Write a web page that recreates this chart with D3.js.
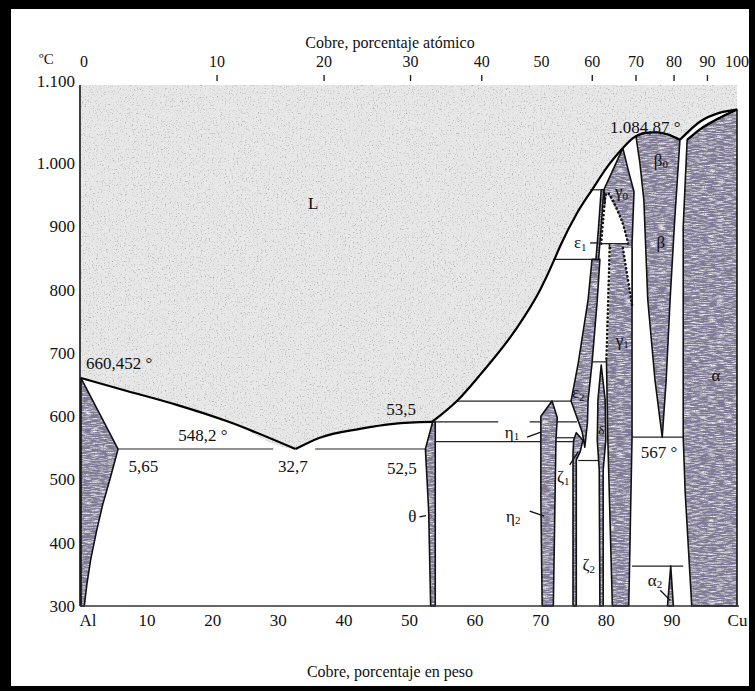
<!DOCTYPE html>
<html><head><meta charset="utf-8">
<script src="https://cdn.jsdelivr.net/npm/d3@7"></script>
<style>
body{margin:0;background:#000;}
svg{display:block;font-family:"Liberation Serif","DejaVu Serif",serif;}
</style></head><body>
<svg id="chart" width="755" height="691"></svg>
<script>
// ---- Axes -------------------------------------------------------------
const wtTicks = [0,10,20,30,40,50,60,70,80,90,100];
const atTicks = [0,10,20,30,40,50,60,70,80,90,100];
const atTickMarks = [10,20,30,40,60,70,80,90];
const tempTicks = [300,400,500,600,700,800,900,1000,1100];

// ---- Liquidus / solidus curves (wt% Cu, °C) ----------------------------
const liqAl    = [[0,660.452],[7,640],[14.6,618],[22.3,592],[32.7,548.2]];
const liqTheta = [[32.7,548.2],[36.4,566],[42.5,580],[47.6,588],[53.5,591]];
const liqMid   = [[53.5,591],[57.3,624],[60.8,665],[66.2,736],[70.0,800],[72.0,844],[73.0,868],[75.6,921],[77.9,958],[80.2,994],[82.6,1024]];
const liqBeta  = [[82.6,1024],[84.2,1040],[86.0,1048],[87.8,1049],[89.6,1045],[91.3,1037]];
const liqCu    = [[91.3,1037],[94.4,1066],[97.4,1080],[100,1084.87]];
const solCu    = [[92.4,1037],[94.4,1054],[97.4,1072],[100,1084.87]];

// ---- Single-phase fields ----------------------------------------------
const phaseAl     = [[0,660.452],[5.65,548.2],[4.4,500],[3.3,460],[2.4,420],[1.5,375],[0.9,335],[0.5,300],[0,300]];
const phaseTheta  = [[53.6,591],[52.5,548.2],[53.0,450],[53.3,300],[54.0,300],[54.0,591]];
const phaseEta    = [[70.1,600],[71.8,624],[72.6,598],[72.4,562],[72.0,300],[70.3,300],[70.1,470]];
const phaseEps2   = [[77.9,848],[79.1,848],[78.7,784],[77.9,684],[77.3,626],[77.2,590],[76.8,551],[76.4,575],[74.7,624],[75.8,684],[77.3,784]];
const phaseZeta   = [[75.5,574],[76.5,562],[76.1,544],[75.5,531],[75.5,300],[75.0,300],[75.0,540],[75.1,562]];
const phaseDelta  = [[79.3,681],[79.9,626],[80.0,562],[79.6,515],[79.6,300],[79.1,300],[79.0,515],[78.7,562],[78.8,626]];
const phaseGamma  = [[82.6,1024],[83.4,990],[84.3,955],[84.0,873],[84.0,567],[83.5,300],[81.0,300],[80.3,567],[80.1,689],[80.6,866],[79.7,958]];
const phaseBeta   = [[84.6,1043],[86.0,1048],[87.8,1049],[89.6,1045],[91.3,1037],[90.5,910],[89.8,784],[89.2,657],[88.6,567],[87.5,657],[86.4,784],[85.8,942],[85.2,1000]];
const phaseAlpha  = [[92.4,1037],[94.4,1054],[97.4,1072],[100,1084.87],[100,300],[93.1,300],[92.1,480],[91.8,567],[91.8,900]];
const phaseAlpha2 = [[89.9,363],[90.3,300],[89.4,300]];
const phaseEps1   = [[79.3,958],[79.7,958],[79.3,900],[78.9,848],[78.5,848],[78.9,900]];

// two-phase pockets inside the gamma field (dotted boundaries)
const gapUpper = [[80.2,953],[79.6,910],[79.3,873],[83.4,873],[82.4,910]];
const gapRight = [[82.6,866],[84.0,866],[84.0,776]];
const gammaDotted = [[80.6,866],[80.1,689]];

// ---- Invariant isotherms ----------------------------------------------
const isoT    = [548.2, 548.2, 591, 591, 624, 560, 566, 530, 686, 848, 873, 958, 567, 363];
const isoFrom = [5.65, 35.7, 54.0, 68.4, 57.3, 54.0, 72.5, 75.8, 77.5, 72.0, 78.8, 77.6, 84.0, 84.0];
const isoTo   = [29.3, 52.5, 63.6, 75.6, 74.7, 75.6, 75.6, 79.4, 80.2, 79.1, 83.4, 79.7, 91.8, 91.8];

// ---- Annotations --------------------------------------------------------
const labelText = ["L","660,452 °","548,2 °","5,65","32,7","53,5","52,5","θ","η","η","ζ","ζ","δ","ε","ε","γ","γ","β","β","α","α","567 °","1.084,87 °"];
const labelSub  = ["","","","","","","","","1","2","1","2","","2","1","0","1","0","","","2","",""];
const labelWt   = [35.4,5.8,18.6,9.5,32.3,48.8,48.9,50.5,65.7,65.9,73.5,77.4,79.3,75.8,76.1,82.4,82.5,88.4,88.4,96.8,87.5,88.1,86.0];
const labelT    = [937,684,569,521,521,610,518,441,575,442,504,365,578,637,874,955,720,1005,874,665,341,543,1056];
const pointers  = [
  [[51.6,441],[52.6,443]],
  [[68.0,567],[70.1,575]],
  [[68.4,450],[70.6,442]],
  [[74.5,523],[75.8,544]],
  [[77.6,874],[78.9,874]],
  [[88.3,325],[89.8,309]]
];

// ---- Scales ----------------------------------------------------------
const x = d3.scaleLinear().domain([0,100]).range([81,737]);
const y = d3.scaleLinear().domain([300,1100]).range([606,100]);
const plotTop = 85;
const M_CU = 63.546, M_AL = 26.982;
const atToWt = a => 100*a*M_CU/(a*M_CU + (100-a)*M_AL);
const xAt = d3.scaleLinear().domain(atTicks).range(atTicks.map(a => x(atToWt(a))));

const svg = d3.select("#chart");
const defs = svg.append("defs");

// grain for the liquid field: sparse dark specks
const fL = defs.append("filter").attr("id","grainL").attr("x",0).attr("y",0).attr("width",1).attr("height",1);
fL.append("feTurbulence").attr("type","fractalNoise").attr("baseFrequency","0.75").attr("numOctaves",2).attr("seed",4).attr("result","n");
fL.append("feColorMatrix").attr("in","n").attr("type","matrix")
  .attr("values","0 0 0 0 0.3  0 0 0 0 0.3  0 0 0 0 0.33  -2.6 0 0 0 1.15").attr("result","d");
fL.append("feComposite").attr("in","d").attr("in2","SourceGraphic").attr("operator","in").attr("result","d2");
const mL = fL.append("feMerge"); mL.append("feMergeNode").attr("in","SourceGraphic"); mL.append("feMergeNode").attr("in","d2");

// grain for solid single-phase fields: light horizontal streaks
const fS = defs.append("filter").attr("id","grainS").attr("x",0).attr("y",0).attr("width",1).attr("height",1);
fS.append("feTurbulence").attr("type","fractalNoise").attr("baseFrequency","0.12 0.9").attr("numOctaves",2).attr("seed",9).attr("result","n");
fS.append("feColorMatrix").attr("in","n").attr("type","matrix")
  .attr("values","0 0 0 0 1  0 0 0 0 1  0 0 0 0 1  2.4 0 0 0 -1.05").attr("result","w");
fS.append("feComposite").attr("in","w").attr("in2","SourceGraphic").attr("operator","in").attr("result","w2");
fS.append("feTurbulence").attr("type","fractalNoise").attr("baseFrequency","0.9").attr("numOctaves",1).attr("seed",2).attr("result","n2");
fS.append("feColorMatrix").attr("in","n2").attr("type","matrix")
  .attr("values","0 0 0 0 0.2  0 0 0 0 0.18  0 0 0 0 0.3  2.2 0 0 0 -0.95").attr("result","k");
fS.append("feComposite").attr("in","k").attr("in2","SourceGraphic").attr("operator","in").attr("result","k2");
const mS = fS.append("feMerge"); mS.append("feMergeNode").attr("in","SourceGraphic"); mS.append("feMergeNode").attr("in","w2"); mS.append("feMergeNode").attr("in","k2");

// black frame with white page inside
svg.append("rect").attr("width",755).attr("height",691).attr("fill","#000");
svg.append("rect").attr("x",11).attr("y",9).attr("width",738).attr("height",677).attr("fill","#fff");

const curve = d3.line().x(d => x(d[0])).y(d => y(d[1])).curve(d3.curveMonotoneX);
const poly  = d3.line().x(d => x(d[0])).y(d => y(d[1])).curve(d3.curveLinearClosed);
const open  = d3.line().x(d => x(d[0])).y(d => y(d[1]));

// liquid field
const liquidEdge = [...liqAl, ...liqTheta.slice(1), ...liqMid.slice(1), ...liqBeta.slice(1), ...liqCu.slice(1)];
const liquidPath = curve(liquidEdge) + `L${x(100)},${plotTop}L${x(0)},${plotTop}Z`;
svg.append("path").attr("d", liquidPath).attr("fill","#e8e8e8").attr("filter","url(#grainL)");

// isotherms
svg.append("g").selectAll("line").data(isoT).join("line")
  .attr("x1",(d,i)=>x(isoFrom[i])).attr("x2",(d,i)=>x(isoTo[i]))
  .attr("y1",d=>y(d)).attr("y2",d=>y(d))
  .attr("stroke","#222").attr("stroke-width",1.2);

// single-phase fields (epsilon-1 is drawn after the gamma pockets)
const solids = [phaseAl, phaseTheta, phaseEta, phaseEps2, phaseZeta, phaseDelta, phaseGamma, phaseBeta, phaseAlpha, phaseAlpha2];
const drawSolids = list => {
  const g = svg.append("g");
  g.selectAll("path.f").data(list).join("path").attr("class","f")
    .attr("d", poly).attr("fill","#817c97").attr("filter","url(#grainS)");
  g.selectAll("path.s").data(list).join("path").attr("class","s")
    .attr("d", poly).attr("fill","none").attr("stroke","#111").attr("stroke-width",1.6).attr("stroke-linejoin","round");
};
drawSolids(solids);

// dotted two-phase pockets inside gamma
const dotStyle = s => s.attr("fill","none").attr("stroke","#111").attr("stroke-width",2.6)
  .attr("stroke-dasharray","0.1,4").attr("stroke-linecap","round");
[gapUpper, gapRight].forEach(g => svg.append("path").attr("d", poly(g)).attr("fill","#fff"));
svg.append("path").attr("d", d3.line().x(d=>x(d[0])).y(d=>y(d[1])).curve(d3.curveCatmullRom)
  ([gapUpper[2],gapUpper[1],gapUpper[0],gapUpper[4],gapUpper[3]])).call(dotStyle);
svg.append("path").attr("d", open([gapRight[0],gapRight[2]])).call(dotStyle);
svg.append("path").attr("d", open(gammaDotted)).attr("stroke","#fff").attr("stroke-width",2.2);
svg.append("path").attr("d", open(gammaDotted)).call(dotStyle);
svg.append("line").attr("x1",x(79.3)).attr("x2",x(83.4)).attr("y1",y(873)).attr("y2",y(873))
  .attr("stroke","#222").attr("stroke-width",1.2);
svg.append("line").attr("x1",x(84.0)).attr("x2",x(84.0)).attr("y1",y(866)).attr("y2",y(776))
  .attr("stroke","#111").attr("stroke-width",1.6);
drawSolids([phaseEps1]);

// liquidus and solidus
[liqAl, liqTheta, liqMid, liqBeta, liqCu, solCu].forEach(c =>
  svg.append("path").attr("d", curve(c)).attr("fill","none").attr("stroke","#000").attr("stroke-width",2.2));

// axes
svg.append("line").attr("x1",x(0)-1).attr("x2",x(0)-1).attr("y1",plotTop).attr("y2",y(300))
  .attr("stroke","#111").attr("stroke-width",1.6);
svg.append("line").attr("x1",x(0)-1).attr("x2",x(100)+2).attr("y1",y(300)).attr("y2",y(300))
  .attr("stroke","#333").attr("stroke-width",1.6);

const yAxis = svg.append("g").attr("transform",`translate(${x(0)-3},0)`)
  .call(d3.axisLeft(y).tickValues(tempTicks).tickSize(0).tickPadding(3)
    .tickFormat(d => d3.format(",")(d).replace(",",".")));
yAxis.select(".domain").remove();
yAxis.attr("font-family","Liberation Serif, serif");
yAxis.selectAll("text").attr("font-size",17).attr("fill","#111");
// the top label sits level with the upper end of the axis line
yAxis.selectAll(".tick").filter(d => d===1100).select("text").attr("y",plotTop - y(1100) - 4);

const xAxis = svg.append("g").attr("transform",`translate(0,${y(300)})`)
  .call(d3.axisBottom(x).tickValues(wtTicks).tickSize(0).tickPadding(8)
    .tickFormat(d => d===0 ? "Al" : d===100 ? "Cu" : d));
xAxis.select(".domain").remove();
xAxis.attr("font-family","Liberation Serif, serif");
xAxis.selectAll("text").attr("font-size",17).attr("fill","#111");
xAxis.selectAll(".tick").filter(d => d===0).attr("transform",`translate(${x(0)+7},0)`);

// atomic-percent scale along the top
svg.append("g").selectAll("text").data(atTicks).join("text")
  .attr("x", d => xAt(d) + (d===0 ? 3 : 0)).attr("y",67).attr("text-anchor","middle")
  .attr("font-size",16).attr("fill","#111").text(d => d);
svg.append("g").selectAll("line").data(atTickMarks).join("line")
  .attr("x1",d=>xAt(d)).attr("x2",d=>xAt(d)).attr("y1",75).attr("y2",81)
  .attr("stroke","#222").attr("stroke-width",1.4);

svg.append("text").attr("x",39).attr("y",64).attr("font-size",15).attr("fill","#111").text("ºC");
svg.append("text").attr("x",390).attr("y",48).attr("text-anchor","middle").attr("font-size",16).attr("fill","#111")
  .text("Cobre, porcentaje atómico");
svg.append("text").attr("x",390).attr("y",677).attr("text-anchor","middle").attr("font-size",16).attr("fill","#111")
  .text("Cobre, porcentaje en peso");

// leader lines
svg.append("g").selectAll("path").data(pointers).join("path")
  .attr("d", open).attr("stroke","#111").attr("stroke-width",1.3).attr("fill","none");

// field and point labels
const lab = svg.append("g").selectAll("text").data(labelText).join("text")
  .attr("x",(d,i)=>x(labelWt[i])).attr("y",(d,i)=>y(labelT[i]))
  .attr("text-anchor","middle").attr("dominant-baseline","central")
  .attr("font-size",d => d==="δ" ? 13 : 17).attr("fill","#111")
  .text(d=>d);
lab.each(function(d,i){
  if(labelSub[i]) d3.select(this).append("tspan").attr("font-size",11).attr("dy",4).text(labelSub[i]);
});
</script></body></html>
